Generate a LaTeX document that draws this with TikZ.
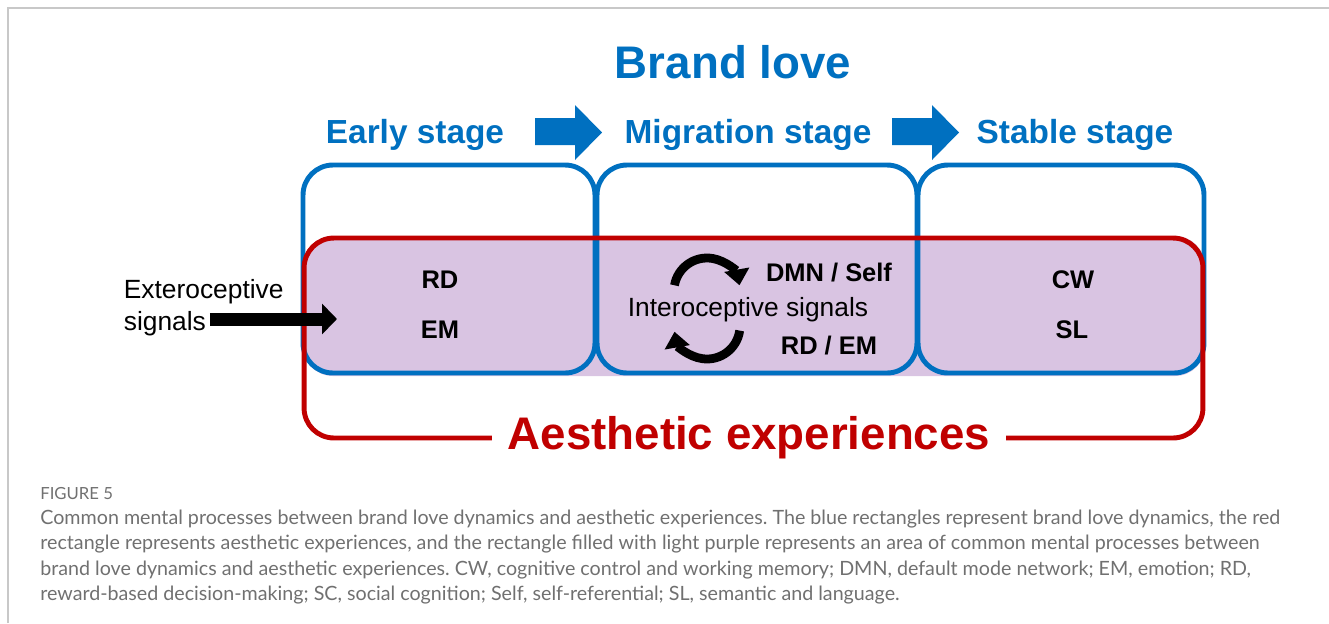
\documentclass[tikz,border=0pt]{standalone}
\usepackage{fontspec}
\setmainfont{Liberation Sans}
\newfontfamily\capfont{Lato}
\usetikzlibrary{arrows.meta}
\definecolor{bblue}{HTML}{0070C0}
\definecolor{ared}{HTML}{C00000}
\definecolor{lpurple}{HTML}{D9C4E2}
\definecolor{capgray}{HTML}{707070}
\definecolor{framegray}{HTML}{C8C8C8}
\frenchspacing

\begin{document}
\begin{tikzpicture}[x=0.02cm,y=-0.02cm,
  stagebox/.style={draw=bblue, line width=2.8pt, rounded corners=17pt, minimum height=4.16cm, inner sep=0pt},
  stagetitle/.style={text=bblue, font=\fontsize{19}{23}\selectfont\bfseries, anchor=base},
  area/.style={font=\fontsize{14.5}{17}\selectfont\bfseries, anchor=base},
  signal/.style={font=\fontsize{15}{18}\selectfont, anchor=base west, inner sep=2pt},
  circarrow/.style={line width=5pt, -{Triangle[length=9pt,width=14pt]}},
  captext/.style={anchor=base west, inner sep=0pt, text=capgray, font=\capfont\fontsize{11.2}{13}\selectfont}]
  \useasboundingbox (0,0) rectangle (1329,623);
  \draw [framegray, line width=1.1pt] (8,623) -- (8,8) -- (1329,8);
  \node [text=bblue, font=\fontsize{26}{30}\selectfont\bfseries, anchor=base] (brand) at (733,78) {Brand love};
  \node [stagetitle] (early) at (415,143) {Early stage};
  \node [stagetitle] (migr) at (748,143) {Migration stage};
  \node [stagetitle] (stable) at (1075,143) {Stable stage};
  \foreach \s in {535,892}
    \fill [bblue] (\s,118) -- ++(40,0) -- ++(0,-13) -- ++(27,27.5) -- ++(-27,27.5) -- ++(0,-15) -- ++(-40,0) -- cycle;
  \fill [lpurple, rounded corners=17pt] (303,236) rectangle (1205,376);
  \node [stagebox, minimum width=5.84cm] (earlybox) at (449,269) {};
  \node [stagebox, minimum width=6.4cm] (migrbox) at (757,269) {};
  \node [stagebox, minimum width=5.72cm] (stablebox) at (1061,269) {};
  \node [draw=ared, line width=2.8pt, rounded corners=17pt, minimum width=17.98cm, minimum height=4cm, inner sep=0pt] (aesth) at (753.5,338) {};
  \node [fill=white, text=ared, font=\fontsize{26}{30}\selectfont\bfseries, inner xsep=9pt, inner ysep=1pt] (aestext) at (749,438) {Aesthetic experiences};
  \node [area] (rd) at (440,288) {RD};
  \node [area] (em) at (440,338) {EM};
  \node [area] (cw) at (1073,288) {CW};
  \node [area] (sl) at (1072,338) {SL};
  \node [area] (dmn) at (829,281) {DMN / Self};
  \node [area] (rdem) at (829,354) {RD / EM};
  \node [font=\fontsize{15}{18}\selectfont, anchor=base] (intero) at (748,316) {Interoceptive signals};
  \draw [circarrow] (707,291) ++(190:33) arc [start angle=190, end angle=350, radius=33];
  \draw [circarrow] (707,326) ++(8:33) arc [start angle=8, end angle=170, radius=33];
  \node [signal] (extero) at (120,298) {Exteroceptive};
  \node [signal] (sigline) at (120,330) {signals};
  \coordinate (extip) at (337,319);
  \draw [line width=7.4pt, -{Triangle[length=8.5pt,width=17pt]}] (sigline.east |- extip) -- (extip);
  \node [captext, font=\capfont\fontsize{9.5}{11}\selectfont] (fig) at (40,499) {FIGURE 5};
  \node [captext] (cap1) at (40,524) {Common mental processes between brand love dynamics and aesthetic experiences. The blue rectangles represent brand love dynamics, the red};
  \node [captext] (cap2) at (40,549.5) {rectangle represents aesthetic experiences, and the rectangle filled with light purple represents an area of common mental processes between};
  \node [captext] (cap3) at (40,575) {brand love dynamics and aesthetic experiences. CW, cognitive control and working memory; DMN, default mode network; EM, emotion; RD,};
  \node [captext] (cap4) at (40,600.5) {reward-based decision-making; SC, social cognition; Self, self-referential; SL, semantic and language.};
\end{tikzpicture}
\end{document}
